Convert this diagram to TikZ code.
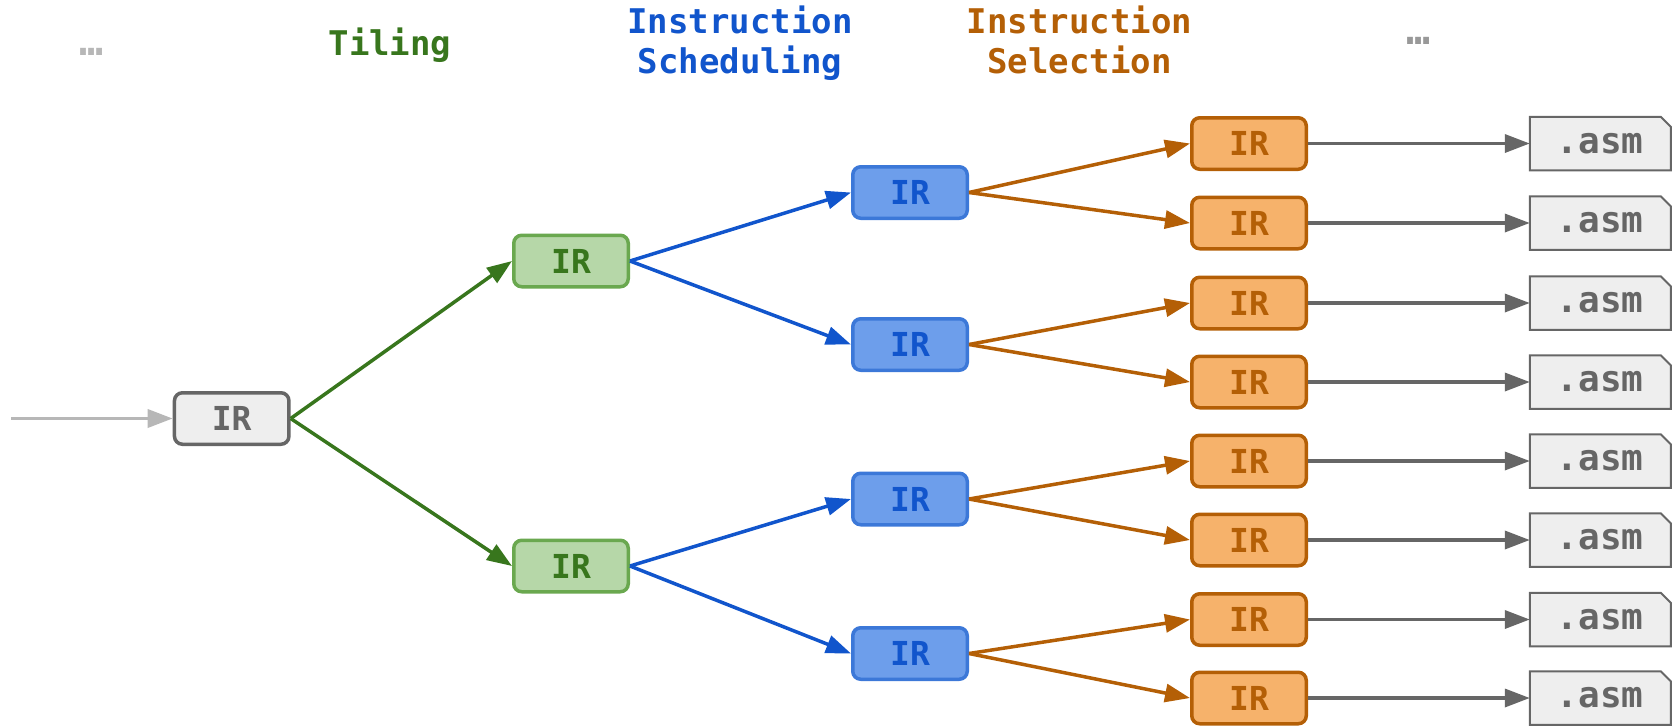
\documentclass[tikz,border=0pt]{standalone}
\usepackage{fontspec}
\usetikzlibrary{arrows.meta,backgrounds}
\newfontfamily\codefont{DejaVu Sans Mono}[BoldFont={* Bold}]

\definecolor{grayline}{HTML}{666666}
\definecolor{grayfill}{HTML}{EEEEEE}
\definecolor{lightgray}{HTML}{B7B7B7}
\definecolor{midgray}{HTML}{999999}
\definecolor{greenfill}{HTML}{B6D7A8}
\definecolor{greenline}{HTML}{6AA84F}
\definecolor{greendark}{HTML}{38761D}
\definecolor{bluefill}{HTML}{6D9EEB}
\definecolor{blueline}{HTML}{3C78D8}
\definecolor{bluedark}{HTML}{1155CC}
\definecolor{orangefill}{HTML}{F6B26B}
\definecolor{orangedark}{HTML}{B45F06}

\tikzset{
  irbox/.style={draw, rounded corners=8pt, line width=3.5pt,
    minimum width=114.5pt, minimum height=51.5pt, inner sep=0pt,
    font=\codefont\bfseries\fontsize{33}{33}\selectfont},
  irgray/.style={irbox, draw=grayline, fill=grayfill, text=grayline},
  irgreen/.style={irbox, draw=greenline, fill=greenfill, text=greendark},
  irblue/.style={irbox, draw=blueline, fill=bluefill, text=bluedark},
  irorange/.style={irbox, draw=orangedark, fill=orangefill, text=orangedark},
  asmfile/.style={minimum width=139pt, minimum height=51.5pt, inner sep=0pt,
    outer sep=1pt, text=grayline, font=\codefont\bfseries\fontsize{36}{36}\selectfont},
  filebody/.style={draw=grayline, fill=grayfill, line width=2pt, line join=miter},
  title/.style={inner sep=0pt, font=\codefont\bfseries\fontsize{34}{40}\selectfont},
  dots/.style={inner sep=0pt, font=\codefont\bfseries\fontsize{40}{40}\selectfont},
  flow/.style={line width=3.5pt, -{Triangle[length=25pt,width=18pt]}},
}

\begin{document}
\begin{tikzpicture}[x=1pt, y=-1pt]
\useasboundingbox (0,0) rectangle (1672,726);

% stage headings
\node[dots, text=lightgray, anchor=base] (dotsL) at (92,55) {…};
\node[title, text=greendark, anchor=base] (tiling) at (390,55) {Tiling};
\node[title, text=bluedark, align=center, anchor=base] (sched) at (740,73) {Instruction\\Scheduling};
\node[title, text=orangedark, align=center, anchor=base] (select) at (1079.5,73) {Instruction\\Selection};
\node[dots, text=midgray, anchor=base] (dotsR) at (1418.7,44) {…};

% IR tree
\node[irgray] (in) at (231.7,418.5) {IR};
\node[irgreen] (g1) at (571,261) {IR};
\node[irgreen] (g2) at (571,566) {IR};
\node[irblue] (b1) at (910,192.5) {IR};
\node[irblue] (b2) at (910,344.5) {IR};
\node[irblue] (b3) at (910,499) {IR};
\node[irblue] (b4) at (910,653.5) {IR};

% selected IR variants and the assembly files they produce
\foreach \i/\y in {1/143.5,2/223,3/303,4/382,5/461,6/540,7/619.5,8/698}{
  \node[irorange] (o\i) at (1249,\y) {IR};
  \node[asmfile] (f\i) at (1600.3,\y) {\raisebox{-4pt}{.asm}};
  \begin{scope}[on background layer]
    \path[filebody] (f\i.south west) -- (f\i.north west)
      -- ([xshift=-10pt]f\i.north east) -- ([yshift=-10pt]f\i.north east)
      -- (f\i.south east) -- cycle;
  \end{scope}
  \draw[flow, grayline] (o\i.east) -- (f\i.west);
}

% connectors
\coordinate (src) at (11,418.5);
\draw[flow, lightgray] (src) -- (in.west);
\draw[flow, greendark] (in.east) -- (g1.west);
\draw[flow, greendark] (in.east) -- (g2.west);
\draw[flow, bluedark] (g1.east) -- (b1.west);
\draw[flow, bluedark] (g1.east) -- (b2.west);
\draw[flow, bluedark] (g2.east) -- (b3.west);
\draw[flow, bluedark] (g2.east) -- (b4.west);
\draw[flow, orangedark] (b1.east) -- (o1.west);
\draw[flow, orangedark] (b1.east) -- (o2.west);
\draw[flow, orangedark] (b2.east) -- (o3.west);
\draw[flow, orangedark] (b2.east) -- (o4.west);
\draw[flow, orangedark] (b3.east) -- (o5.west);
\draw[flow, orangedark] (b3.east) -- (o6.west);
\draw[flow, orangedark] (b4.east) -- (o7.west);
\draw[flow, orangedark] (b4.east) -- (o8.west);
\end{tikzpicture}
\end{document}
